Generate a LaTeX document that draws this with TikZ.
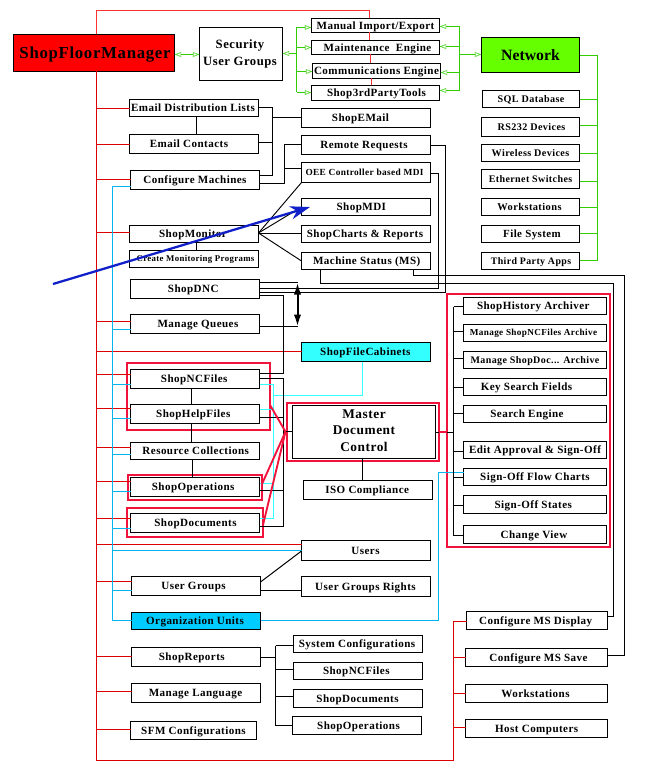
\documentclass[tikz,border=0pt]{standalone}
\usepackage{fontspec}
\usetikzlibrary{arrows.meta}
\newfontfamily\sfmfont[LetterSpace=4]{Liberation Serif}
\newfontfamily\plainfont{Liberation Serif}
\definecolor{sfmred}{HTML}{FF0000}
\definecolor{trunkred}{HTML}{DC0000}
\definecolor{toprd}{HTML}{FF3030}
\definecolor{crim}{HTML}{F0143C}
\definecolor{grn}{HTML}{33CC00}
\definecolor{headgrn}{HTML}{55D830}
\definecolor{netgrn}{HTML}{66FF00}
\definecolor{skyb}{HTML}{00B4F0}
\definecolor{orgb}{HTML}{00CCFF}
\definecolor{cyn}{HTML}{33FFFF}
\definecolor{arrowblue}{HTML}{1020C8}
\newcommand{\fs}[1]{\sfmfont\bfseries\fontsize{#1}{10}\selectfont}
\tikzset{
  boxn/.style={draw=black,line width=0.8pt,fill=white,inner sep=0pt,outer sep=0pt,font=\fs{8.3}},
  hl/.style={draw=crim,line width=1.5pt,inner sep=0pt,outer sep=0pt},
  blk/.style={draw=black,line width=0.75pt},
  rd/.style={draw=trunkred,line width=0.75pt},
  topr/.style={draw=toprd,line width=0.75pt},
  grl/.style={draw=grn,line width=0.75pt},
  ghead/.tip={Triangle[open,length=5pt,width=3.6pt,line width=0.5pt,color=headgrn]},
  grar/.style={grl,-ghead},
  blu/.style={draw=skyb,line width=0.75pt},
  cyl/.style={draw=cyn,line width=0.75pt}
}
\newcommand{\mk}[8][]{%
  \node[boxn,#1,minimum width={(#5-#3)*0.75pt},minimum height={(#6-#4)*0.75pt}] (#2) at ({(#3+#5)/2},{(#4+#6)/2})
  {\makebox[0pt][c]{\kern #7\dimexpr1.5pt\relax\rule[-0.3em]{0pt}{1.25em}#8}};}
\newcommand{\hlb}[5]{%
  \node[hl,minimum width={(#4-#2)*0.75pt},minimum height={(#5-#3)*0.75pt}] (#1) at ({(#2+#4)/2},{(#3+#5)/2}) {};}
\begin{document}
\begin{tikzpicture}[x=0.75pt,y=-0.75pt]
\useasboundingbox (0,0) rectangle (655,770);
% highlight frames
\hlb{hfiles}{127}{363}{270}{430}
\hlb{hops}{128}{475}{262}{500}
\hlb{hdocs}{127}{508}{263}{537}
\hlb{hmaster}{287}{403}{439}{461}
\hlb{harch}{447}{294}{610}{547}
% top row
\mk[fill=sfmred,font=\fs{12.6}]{sfm}{13.5}{34.5}{174.5}{71.5}{1}{ShopFloorManager}
\mk[font=\fs{9.5}]{sec}{199.5}{27.5}{282.5}{80.5}{-1}{\raisebox{0.15em}{\begin{tabular}{@{}c@{}}Security\\[2.75pt]User Groups\end{tabular}}}
\mk{manual}{311.5}{18.5}{439.5}{32.5}{0}{Manual Import/Export}
\mk{maint}{311.5}{40.5}{439.5}{54.5}{2}{Maintenance\ \ Engine}
\mk{comm}{312.5}{63.5}{440.5}{78.5}{0}{Communications Engine}
\mk{third}{311.5}{85.5}{439.5}{100.5}{1}{Shop3rdPartyTools}
\mk[fill=netgrn,font=\plainfont\bfseries\fontsize{11.8}{14}\selectfont]{net}{481.5}{37.5}{579.5}{72.5}{0}{Network}
% network list
\mk[font=\fs{7.6}]{sql}{482.5}{90.5}{579.5}{107.5}{0}{SQL Database}
\mk[font=\fs{7.6}]{rs}{481.5}{117.5}{579.5}{136.5}{1}{RS232 Devices}
\mk[font=\fs{7.6}]{wl}{481.5}{144.5}{579.5}{161.5}{0}{Wireless Devices}
\mk[font=\fs{7.5}]{eth}{481.5}{169.5}{579.5}{188.5}{0}{Ethernet Switches}
\mk[font=\fs{7.8}]{ws}{481.5}{198.5}{579.5}{215.5}{-1}{Workstations}
\mk[font=\fs{8.2}]{fsys}{481.5}{225.5}{579.5}{242.5}{1.5}{File System}
\mk[font=\fs{7.4}]{tpa}{481.5}{252.5}{579.5}{269.5}{0.5}{Third Party Apps}
% left column
\mk{edl}{129.5}{99.5}{258.5}{116.5}{-1}{Email Distribution Lists}
\mk{ec}{129.5}{134.5}{258.5}{153.5}{-5}{Email Contacts}
\mk{cm}{130.5}{170.5}{259.5}{189.5}{0}{Configure Machines}
\mk{mon}{129.5}{225.5}{258.5}{242.5}{-1}{ShopMonitor}
\mk[font=\fs{6.6}]{cmp}{129.5}{250.5}{258.5}{267.5}{1.5}{Create Monitoring Programs}
\mk{dnc}{130.5}{279.5}{259.5}{298.5}{-1.7}{ShopDNC}
\mk{mq}{130.5}{314.5}{259.5}{333.5}{3}{Manage Queues}
\mk{nc}{130.5}{369.5}{259.5}{388.5}{-0.8}{ShopNCFiles}
\mk{help}{130.5}{404.5}{259.5}{423.5}{-1.7}{ShopHelpFiles}
\mk{res}{130.5}{442.5}{259.5}{459.5}{0.7}{Resource Collections}
\mk{ops}{130.5}{477.5}{259.5}{496.5}{-1.8}{ShopOperations}
\mk{docs}{130.5}{513.5}{259.5}{532.5}{0.5}{ShopDocuments}
\mk{ug}{131.5}{576.5}{260.5}{595.5}{-2.5}{User Groups}
\mk[fill=orgb]{org}{131.5}{612.5}{260.5}{629.5}{-1}{Organization Units}
\mk{rep}{131.5}{647.5}{260.5}{666.5}{-4.2}{ShopReports}
\mk{lang}{131.5}{683.5}{260.5}{702.5}{-0.5}{Manage Language}
\mk{cfg}{130.5}{721.5}{256.5}{739.5}{0}{SFM Configurations}
% middle column
\mk{em}{301.5}{108.5}{430.5}{127.5}{-5.5}{ShopEMail}
\mk{rr}{301.5}{135.5}{430.5}{154.5}{-2}{Remote Requests}
\mk[font=\fs{7}]{oee}{301.5}{162.5}{430.5}{182.5}{-1.5}{OEE Controller based MDI}
\mk{mdi}{301.5}{198.5}{430.5}{215.5}{-4.7}{ShopMDI}
\mk{chr}{301.5}{225.5}{430.5}{242.5}{-1}{ShopCharts \& Reports}
\mk{ms}{301.5}{252.5}{430.5}{269.5}{0.7}{Machine Status (MS)}
\mk[fill=cyn]{fc}{301.5}{342.5}{430.5}{361.5}{-0.7}{ShopFileCabinets}
\mk[font=\fs{10}]{mdc}{292.5}{405.5}{435.5}{458.5}{0}{\begin{tabular}{@{}c@{}}Master\\[2.4pt]Document\\[2.4pt]Control\end{tabular}}
\mk{iso}{303.5}{480.5}{432.5}{499.5}{-0.8}{ISO Compliance}
\mk{users}{301.5}{540.5}{430.5}{560.5}{-0.5}{Users}
\mk{ugr}{301.5}{576.5}{430.5}{596.5}{-0.5}{User Groups Rights}
\mk{sc}{293.5}{635.5}{422.5}{652.5}{-1}{System Configurations}
\mk{nc2}{293.5}{662.5}{422.5}{679.5}{-1.7}{ShopNCFiles}
\mk{docs2}{293.5}{689.5}{422.5}{707.5}{-0.5}{ShopDocuments}
\mk{ops2}{292.5}{716.5}{421.5}{734.5}{1.5}{ShopOperations}
% archive column
\mk{hist}{463.5}{297.5}{606.5}{314.5}{-1.7}{ShopHistory Archiver}
\mk[font=\fs{6.9}]{mnc}{463.5}{324.5}{606.5}{341.5}{-1.5}{Manage ShopNCFiles Archive}
\mk[font=\fs{7.5}]{mdoc}{463.5}{351.5}{606.5}{368.5}{0}{Manage ShopDoc... Archive}
\mk{key}{463.5}{378.5}{606.5}{395.5}{-8.5}{Key Search Fields}
\mk{se}{463.5}{405.5}{606.5}{422.5}{-8}{Search Engine}
\mk{edit}{463.5}{441.5}{606.5}{458.5}{0}{Edit Approval \& Sign-Off}
\mk{flow}{463.5}{468.5}{606.5}{485.5}{0}{Sign-Off Flow Charts}
\mk{st}{463.5}{495.5}{606.5}{513.5}{-1.7}{Sign-Off States}
\mk{cv}{463.5}{525.5}{606.5}{543.5}{-1}{Change View}
% bottom right
\mk{msd}{466.5}{611.5}{607.5}{629.5}{-1.3}{Configure MS Display}
\mk{mss}{465.5}{648.5}{607.5}{666.5}{2}{Configure MS Save}
\mk{ws2}{465.5}{684.5}{607.5}{702.5}{-1}{Workstations}
\mk{host}{465.5}{719.5}{607.5}{737.5}{0.2}{Host Computers}
% red trunk
\coordinate (tr) at (96.5,71.5);
\draw[topr] (tr |- sfm.north) -- (96.5,10.5) -- (369.5,10.5) -- (369.5,0 |- manual.north);
\draw[topr] (369.5,0 |- manual.south) -- (369.5,0 |- maint.north);
\draw[topr] (370.5,0 |- maint.south) -- (370.5,0 |- comm.north);
\draw[topr] (371.5,0 |- comm.south) -- (371.5,0 |- third.north);
\draw[rd] (tr |- sfm.south) -- (96.5,760.5) -- (453.5,760.5) -- (453.5,621.5) -- (msd.west |- 0,621.5);
\foreach \n/\y in {edl/108.5,ec/144.5,cm/179.5,mon/232.5,mq/321.5,nc/374.5,help/408.5,res/447.5,ops/481.5,docs/518.5,ug/581.5,rep/656.5,lang/691.5,cfg/729.5,fc/351.5,users/544.5}
  \draw[rd] (96.5,\y) -- (\n.west |- 0,\y);
\foreach \n/\y in {mss/657.5,ws2/693.5,host/727.5}
  \draw[rd] (453.5,\y) -- (\n.west |- 0,\y);
% blue bus
\draw[blu] (cm.west |- 0,186.5) -- (112.5,186.5) -- (112.5,620.5) -- (org.west |- 0,620.5);
\foreach \n/\y in {mq/329.5,nc/384.5,help/418.5,res/454.5,ops/491.5,docs/528.5,users/550.5,ug/590.5}
  \draw[blu] (112.5,\y) -- (\n.west |- 0,\y);
\draw[blu] (org.east |- 0,620.5) -- (438.5,620.5) -- (438.5,472.5) -- (flow.west |- 0,472.5);
% cyan bus
\draw[cyl] (362.5,0 |- fc.south) -- (362.5,395.5) -- (273.5,395.5);
\draw[cyl] (273.5,384.5) -- (273.5,518.5);
\foreach \n/\y in {nc/384.5,help/409.5,ops/483.5,docs/518.5}
  \draw[cyl] (\n.east |- 0,\y) -- (273.5,\y);
% green
\draw[grl,ghead-ghead] (sfm.east |- 0,54.5) -- (sec.west |- 0,54.5);
\draw[grl] (296.5,27.5) -- (296.5,92.5);
\draw[grar] (296.5,53.5) -- (sec.east |- 0,53.5);
\foreach \n/\y in {manual/27.5,maint/47.5,comm/71.5,third/92.5}
  \draw[grar] (296.5,\y) -- (\n.west |- 0,\y);
\draw[grl] (459.5,26.5) -- (459.5,90.5);
\foreach \n/\y in {manual/26.5,maint/46.5,comm/72.5,third/90.5}
  \draw[grar] (459.5,\y) -- (\n.east |- 0,\y);
\draw[grar] (459.5,54.5) -- (net.west |- 0,54.5);
\draw[grl] (net.east |- 0,55.5) -- (597.5,55.5) -- (597.5,260.5);
\foreach \n/\y in {sql/99.5,rs/125.5,wl/153.5,eth/181.5,ws/207.5,fsys/233.5,tpa/260.5}
  \draw[grl] (\n.east |- 0,\y) -- (597.5,\y);
% black connectors, left
\draw[blk] (196.5,0 |- edl.south) -- (196.5,0 |- ec.north);
\draw[blk] (196.5,0 |- mon.south) -- (196.5,0 |- cmp.north);
\draw[blk] (edl.east |- 0,107.5) -- (272.5,107.5) -- (272.5,175.5) -- (cm.east |- 0,175.5);
\draw[blk] (ec.east |- 0,142.5) -- (272.5,142.5);
\draw[blk] (272.5,117.5) -- (em.west |- 0,117.5);
\draw[blk] (cm.east |- 0,183.5) -- (284.5,183.5) -- (284.5,144.5) -- (rr.west |- 0,144.5);
\draw[blk] (284.5,168.5) -- (oee.west |- 0,168.5);
\draw[blk,line width=0.7pt] (mon.east |- 0,233) -- (oee.south west);
\draw[blk,line width=0.7pt] (mon.east |- 0,233) -- (mdi.west);
\draw[blk] (mon.east |- 0,233.5) -- (chr.west |- 0,233.5);
\draw[blk,line width=0.7pt] (mon.east |- 0,233) -- (ms.west);
\draw[blk] (rr.east |- 0,145.5) -- (445.5,145.5) -- (445.5,292.5) -- (dnc.east |- 0,292.5);
\draw[blk] (oee.east |- 0,173.5) -- (438.5,173.5) -- (438.5,288.5) -- (dnc.east |- 0,288.5);
\draw[blk] (320.5,0 |- ms.south) -- (320.5,283.5) -- (613.5,283.5) -- (613.5,616.5) -- (msd.east |- 0,616.5);
\draw[blk] (413.5,0 |- ms.south) -- (413.5,275.5) -- (624.5,275.5) -- (624.5,655.5) -- (mss.east |- 0,655.5);
\draw[blk] (dnc.east |- 0,282.5) -- (297.5,282.5);
\draw[blk] (mq.east |- 0,326.5) -- (297.5,326.5);
\draw[draw=black,line width=1.5pt,{Latex[length=9pt,width=5.5pt]}-{Latex[length=9pt,width=5.5pt]}] (297.5,282.5) -- (297.5,326.5);
\draw[blk] (dnc.east |- 0,295.5) -- (283.5,295.5) -- (283.5,373.5) -- (nc.east |- 0,373.5);
\draw[blk] (nc.east |- 0,378.5) -- (283.5,378.5) -- (283.5,526.5) -- (docs.east |- 0,526.5);
\draw[blk] (help.east |- 0,417.5) -- (283.5,417.5);
\draw[blk] (ops.east |- 0,490.5) -- (283.5,490.5);
\draw[blk] (283.5,431.5) -- (mdc.west |- 0,431.5);
\draw[blk] (191.5,0 |- nc.south) -- (191.5,0 |- help.north);
\draw[blk] (191.5,0 |- help.south) -- (191.5,0 |- res.north);
\draw[blk] (192.5,0 |- res.south) -- (192.5,0 |- ops.north);
\draw[blk] (362.5,0 |- mdc.south) -- (362.5,0 |- iso.north);
\draw[blk] (ug.east |- 0,582) -- (users.west |- 0,551);
\draw[blk] (ug.east |- 0,590.5) -- (ugr.west |- 0,590.5);
\draw[blk] (rep.east |- 0,657.5) -- (275.5,657.5);
\draw[blk] (275.5,645.5) -- (275.5,725.5);
\foreach \n/\y in {sc/645.5,nc2/669.5,docs2/696.5,ops2/725.5}
  \draw[blk] (275.5,\y) -- (\n.west |- 0,\y);
% archive bus
\draw[blk] (mdc.east |- 0,432.5) -- (453.5,432.5);
\draw[blk] (453.5,306.5) -- (453.5,535.5);
\foreach \n/\y in {hist/306.5,mnc/331.5,mdoc/358.5,key/387.5,se/413.5,edit/451.5,flow/477.5,st/505.5,cv/535.5}
  \draw[blk] (453.5,\y) -- (\n.west |- 0,\y);
\draw[draw=crim,line width=1.2pt] (hmaster.east |- 0,432) -- (harch.west |- 0,432);
% crimson links
\draw[draw=crim,line width=1.4pt] (285.5,431.7) -- (hfiles.east |- 0,405);
\draw[draw=crim,line width=1.4pt] (285.5,431.7) -- (hops.east |- 0,484);
\draw[draw=crim,line width=1.4pt] (285.5,431.7) -- (hdocs.east |- 0,525);
% big blue arrow
\coordinate (as) at (53,284);
\draw[draw=arrowblue,line width=1.7pt,-{Stealth[length=15pt,width=10pt]}] (as) -- (310,0 |- mdi.west);
\end{tikzpicture}
\end{document}
